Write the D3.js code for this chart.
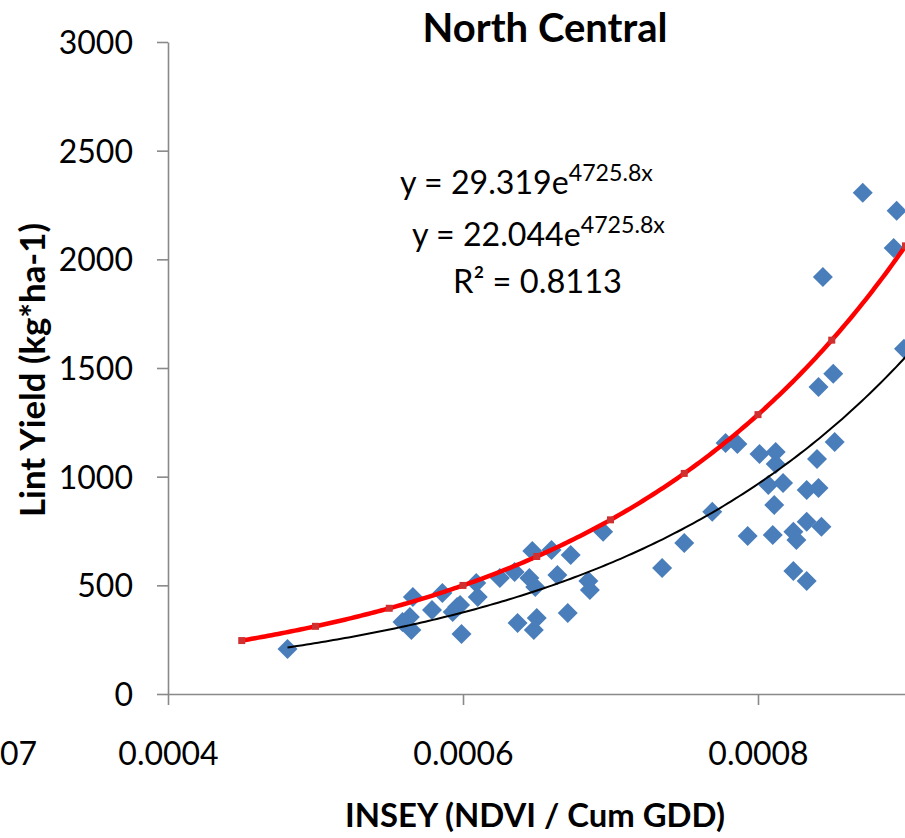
<!DOCTYPE html>
<html><head><meta charset="utf-8">
<script src="https://cdn.jsdelivr.net/npm/d3@7"></script>
<style>
body{margin:0;background:#fff;}
svg{display:block;font-family:Lato,"Open Sans",sans-serif;}
</style>
</head><body>
<svg id="chart" width="905" height="838"></svg>
<script>
// ---- data ----
const insey = [0.000481,0.000566,0.000559,0.000565,0.000564,0.000579,0.000586,0.000596,0.000593,0.000598,
  0.000599,0.000610,0.000609,0.000625,0.000635,0.000645,0.000649,0.000647,0.000660,0.000673,
  0.000664,0.000685,0.000686,0.000695,0.000637,0.000650,0.000648,0.000671,0.000735,0.000750,
  0.000769,0.000778,0.000786,0.000801,0.000812,0.000812,0.000807,0.000817,0.000811,0.000793,
  0.000810,0.000824,0.000826,0.000833,0.000843,0.000824,0.000833,0.000840,0.000833,0.000841,
  0.000852,0.000841,0.000851,0.000844,0.000871,0.000894,0.000892,0.000899];
const lintYield = [207,446,331,295,354,387,465,400,377,410,
  276,446,511,534,561,534,492,658,663,640,
  548,520,479,746,327,350,295,373,580,695,
  838,1155,1150,1104,1114,1058,962,971,870,727,
  732,746,709,792,769,566,520,1081,939,948,
  1160,1413,1473,1919,2306,2223,2052,1588];
const yTicks = [0,500,1000,1500,2000,2500,3000];
const xTicks = [0.0004,0.0006,0.0008];
const fitA = [29.319, 22.044];          // red, black
const fitB = [4725.8, 4725.8];
const fitStart = [0.00045, 0.000481];
const fitEnd = [0.0009, 0.001];
const redMarkerX = [0.00045,0.0005,0.00055,0.0006,0.00065,0.0007,0.00075,0.0008,0.00085,0.0009];
const eqCoef = ["29.319","22.044"];
const eqExp = ["4725.8x","4725.8x"];
const rSquared = "0.8113";
const clippedLabel = "07";

// ---- layout ----
const svg = d3.select("#chart");
const x = d3.scaleLinear().domain([0.0004, 0.001]).range([168, 1053]);
const y = d3.scaleLinear().domain([0, 3000]).range([694, 42]);
const axisColor = "#898989";

// y axis
const gy = svg.append("g").attr("transform","translate(168,0)")
  .call(d3.axisLeft(y).tickValues(yTicks).tickSize(11).tickSizeOuter(0).tickPadding(24).tickFormat(d3.format("d")));
// x axis
const gx = svg.append("g").attr("transform","translate(0,694)")
  .call(d3.axisBottom(x).tickValues(xTicks).tickSize(11).tickSizeOuter(0).tickPadding(37).tickFormat(d3.format(".4f")));
[gx, gy].forEach(g => {
  g.selectAll("path,line").attr("stroke", axisColor).attr("stroke-width", 1.6);
  g.selectAll("text").attr("fill","#000").attr("font-size", 32).attr("font-family","Lato,'Open Sans',sans-serif");
});
gy.selectAll("text").attr("dy","0.36em");

svg.append("text").attr("x",0).attr("y",765).attr("font-size",32).text(clippedLabel);

// points
svg.append("g").selectAll("path").data(insey.map((v,i)=>[v, lintYield[i]])).join("path")
  .attr("transform", d => `translate(${x(d[0])},${y(d[1])})`)
  .attr("d", "M0,-10L10,0L0,10L-10,0Z")
  .attr("fill", "#4A7EBB");

// trend curves
const curve = (k) => {
  const n = 200, pts = [];
  for (let i = 0; i <= n; i++) {
    const xv = fitStart[k] + (fitEnd[k]-fitStart[k]) * i / n;
    pts.push([xv, fitA[k]*Math.exp(fitB[k]*xv)]);
  }
  return pts;
};
const line = d3.line().x(d=>x(d[0])).y(d=>y(d[1]));
svg.append("path").attr("d", line(curve(1))).attr("fill","none").attr("stroke","#000").attr("stroke-width",2);
svg.append("path").attr("d", line(curve(0))).attr("fill","none").attr("stroke","#FF0000").attr("stroke-width",4.5);
svg.append("g").selectAll("rect").data(redMarkerX).join("rect")
  .attr("x", d => x(d)-3.5).attr("y", d => y(fitA[0]*Math.exp(fitB[0]*d))-3.5)
  .attr("width",7).attr("height",7).attr("fill","#D03030");

// texts
function fit(sel, w, base) {
  sel.attr("font-size", base);
  const len = sel.node().getComputedTextLength();
  sel.attr("font-size", base * w / len);
}
const title = svg.append("text").attr("x",545).attr("y",42).attr("text-anchor","middle")
  .attr("font-weight","bold").text("North Central");
fit(title, 245, 40);
const xt = svg.append("text").attr("x",535).attr("y",827).attr("text-anchor","middle")
  .attr("font-weight","bold").text("INSEY (NDVI / Cum GDD)");
fit(xt, 380, 33);
const yt = svg.append("text").attr("transform","translate(45,370) rotate(-90)").attr("text-anchor","middle")
  .attr("font-weight","bold").text("Lint Yield (kg*ha-1)");
fit(yt, 294, 32);

const eqX = [400, 412], eqY = [194, 246], eqW = [253, 253];
eqCoef.forEach((c,i) => {
  const t = svg.append("text").attr("x",eqX[i]).attr("y",eqY[i]);
  t.append("tspan").text(`y = ${c}e`);
  t.append("tspan").attr("font-size","0.72em").attr("dy","-0.55em").text(eqExp[i]);
  fit(t, eqW[i], 29);
});
const rt = svg.append("text").attr("x",453).attr("y",293).text(`R² = ${rSquared}`);
fit(rt, 169, 30);
</script>
</body></html>
